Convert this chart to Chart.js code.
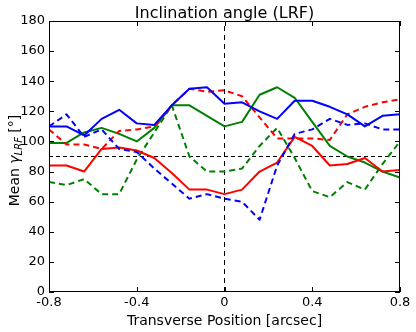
<!DOCTYPE html>
<html>
<head>
<meta charset="utf-8">
<script src="https://cdn.jsdelivr.net/npm/chart.js@4.4.0/dist/chart.umd.min.js"></script>
<style>
  html, body { margin: 0; padding: 0; background: #fff; }
  #wrap { width: 416px; height: 332px; position: relative; }
</style>
</head>
<body>
<div id="wrap"><canvas id="chart"></canvas></div>
<script>
// transverse positions [arcsec]
const positions = [-0.8, -0.72, -0.64, -0.56, -0.48, -0.4, -0.32, -0.24, -0.16, -0.08, 0,
                   0.08, 0.16, 0.24, 0.32, 0.4, 0.48, 0.56, 0.64, 0.72, 0.8];

// mean inclination [deg]
const blueSolid  = [110, 110, 104, 115, 121, 112, 111, 124, 135, 136, 125, 126, 120, 115, 127, 127, 123, 118, 110, 117, 118];
const blueDashed = [110, 118, 103, 108, 95, 93, 82, 72, 62, 65, 62, 60, 48, 84, 105, 108, 115, 111, 112, 108, 108];
const redSolid   = [84, 84, 80, 95, 96, 94, 89, 79, 68, 68, 65, 68, 80, 86, 103, 97, 84, 85, 89, 80, 81];
const redDashed  = [108, 98, 98, 95, 107, 108, 110, 124, 135, 133, 134, 130, 116, 102, 102, 102, 101, 118, 123, 126, 128];
const greenSolid  = [99, 99, 106, 109, 105, 100, 109, 124, 124, 117, 110, 113, 131, 136, 129, 113, 97, 90, 86, 80, 76];
const greenDashed = [73, 71, 75, 65, 65, 88, 106, 124, 90, 80, 80, 82, 97, 109, 89, 67, 63, 73, 68, 85, 100];

const refLevel = 90;
const xRange = [-0.8, 0.8];
const yRange = [0, 180];

const titleText = "Inclination angle (LRF)";
const xLabel = "Transverse Position [arcsec]";

function pts(arr) {
  return positions.map((x, i) => ({ x: x, y: arr[i] }));
}

function line(label, arr, color, dashed) {
  return {
    label: label,
    data: pts(arr),
    borderColor: color,
    borderWidth: 2,
    borderDash: dashed ? [6, 4] : [],
    borderJoinStyle: "round",
    pointRadius: 0,
    tension: 0,
    fill: false
  };
}

const FONT = "'DejaVu Sans', sans-serif";

const decor = {
  id: "decor",
  afterDraw(chart) {
    const ctx = chart.ctx;
    const a = chart.chartArea;
    const xs = chart.scales.x;
    const ys = chart.scales.y;
    ctx.save();
    ctx.strokeStyle = "#000";
    ctx.lineWidth = 1;
    ctx.setLineDash([]);
    ctx.strokeRect(a.left + 0.5, a.top + 0.5, a.right - a.left - 1, a.bottom - a.top - 1);

    // inward tick marks on all four sides
    ctx.beginPath();
    xs.ticks.forEach(t => {
      const px = Math.round(xs.getPixelForValue(t.value)) + 0.5;
      ctx.moveTo(px, a.bottom);
      ctx.lineTo(px, a.bottom - 5);
      ctx.moveTo(px, a.top);
      ctx.lineTo(px, a.top + 5);
    });
    ys.ticks.forEach(t => {
      const py = Math.round(ys.getPixelForValue(t.value)) + 0.5;
      ctx.moveTo(a.left, py);
      ctx.lineTo(a.left + 5, py);
      ctx.moveTo(a.right, py);
      ctx.lineTo(a.right - 5, py);
    });
    ctx.stroke();

    ctx.fillStyle = "#000";
    ctx.textAlign = "center";
    ctx.textBaseline = "alphabetic";
    const cx = (a.left + a.right) / 2;
    ctx.font = "16px " + FONT;
    ctx.fillText(titleText, cx, 18);
    ctx.font = "14px " + FONT;
    ctx.fillText(xLabel, cx, 325);

    // y label: Mean γ_LRF [°]
    const parts = [
      { t: "Mean ", f: "14px " + FONT, dy: 0 },
      { t: "γ", f: "italic 14px " + FONT, dy: 0 },
      { t: "LRF", f: "italic 10px " + FONT, dy: 3 },
      { t: " [°]", f: "14px " + FONT, dy: 0 }
    ];
    let total = 0;
    parts.forEach(p => { ctx.font = p.f; p.w = ctx.measureText(p.t).width; total += p.w; });
    ctx.translate(19, (a.top + a.bottom) / 2 + 4);
    ctx.rotate(-Math.PI / 2);
    ctx.textAlign = "left";
    let x0 = -total / 2;
    parts.forEach(p => {
      ctx.font = p.f;
      ctx.fillText(p.t, x0, p.dy);
      x0 += p.w;
    });
    ctx.restore();
  }
};

new Chart(document.getElementById("chart"), {
  type: "line",
  data: {
    datasets: [
      line("blue", blueSolid, "#0000ff", false),
      line("blue dashed", blueDashed, "#0000ff", true),
      line("red", redSolid, "#ff0000", false),
      line("red dashed", redDashed, "#ff0000", true),
      line("green", greenSolid, "#008000", false),
      line("green dashed", greenDashed, "#008000", true),
      {
        label: "ref",
        data: [{ x: xRange[0], y: refLevel }, { x: xRange[1], y: refLevel }],
        borderColor: "#000",
        borderWidth: 1,
        borderDash: [4, 3],
        pointRadius: 0
      },
      {
        label: "zero",
        data: [{ x: 0, y: yRange[0] }, { x: 0, y: yRange[1] }],
        borderColor: "#000",
        borderWidth: 1,
        borderDash: [5, 4],
        pointRadius: 0
      }
    ]
  },
  options: {
    responsive: true,
    maintainAspectRatio: false,
    animation: false,
    layout: { padding: { top: 21, right: 16, left: 0, bottom: 0 } },
    plugins: {
      legend: { display: false },
      tooltip: { enabled: false },
      title: { display: false }
    },
    scales: {
      x: {
        type: "linear",
        min: xRange[0],
        max: xRange[1],
        grid: { display: false, drawTicks: false },
        border: { display: false },
        ticks: {
          stepSize: 0.4,
          autoSkip: false,
          maxRotation: 0,
          padding: 3,
          color: "#000",
          font: { family: FONT, size: 13 },
          callback: v => Math.abs(v) < 1e-9 ? "0" : v.toFixed(1)
        },
        afterFit: s => { s.height = 40; }
      },
      y: {
        min: yRange[0],
        max: yRange[1],
        grid: { display: false, drawTicks: false },
        border: { display: false },
        ticks: {
          stepSize: 20,
          padding: 4,
          color: "#000",
          font: { family: FONT, size: 13 }
        },
        afterFit: s => { s.width = 49; }
      }
    }
  },
  plugins: [decor]
});
</script>
</body>
</html>
